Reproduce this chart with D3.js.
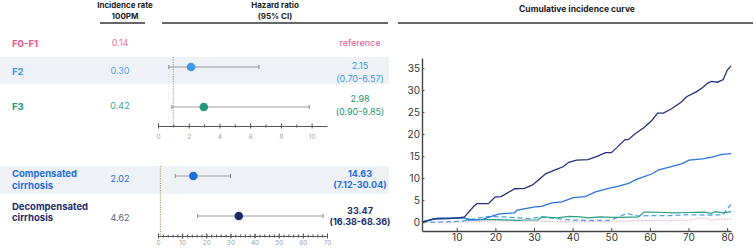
<!DOCTYPE html>
<html>
<head>
<meta charset="utf-8">
<script src="https://cdn.jsdelivr.net/npm/d3@7"></script>
<style>
  body { margin: 0; background: #fff; }
  text { font-family: Inter, "Noto Sans", sans-serif; }
</style>
</head>
<body>
<svg id="chart" width="755" height="248"></svg>
<script>
// forest plot data
const groups = ["F0-F1", "F2", "F3", "Compensated cirrhosis", "Decompensated cirrhosis"];
const incidence = ["0.14", "0.30", "0.42", "2.02", "4.62"];
const hr = [null, 2.15, 2.98, 14.63, 33.47];
const hrLow = [null, 0.70, 0.90, 7.12, 16.38];
const hrHigh = [null, 6.57, 9.85, 30.04, 68.36];
const hrText = ["reference", "2.15", "2.98", "14.63", "33.47"];
const ciText = ["", "(0.70-6.57)", "(0.90-9.85)", "(7.12-30.04)", "(16.38-68.36)"];

// cumulative incidence curves (time, %)
const tDecomp = [1, 4, 8, 10.5, 12, 14.3, 15.2, 18.2, 19.9, 21.5, 25, 27.5, 29.5, 31, 33, 35.5, 37.5, 39, 41, 44, 46.5, 48.5, 50, 51.5, 53.5, 54.5, 56, 58.5, 60.5, 62, 63.5, 65.5, 68, 69.5, 72, 73.5, 75, 76, 77.5, 79, 80, 81];
const vDecomp = [0, 0.7, 0.8, 1.0, 1.2, 3.5, 4.2, 4.2, 5.7, 5.8, 7.6, 7.7, 8.4, 9.5, 11, 11.9, 12.6, 13.6, 14.1, 14.2, 15, 15.8, 15.8, 17, 18.7, 18.8, 20, 21.5, 23.1, 24.8, 24.8, 25.7, 27.2, 28.5, 29.6, 30.5, 31.6, 32, 31.8, 32.4, 34.5, 35.5];
const tComp = [1, 5, 10, 12, 13, 16.5, 19, 21, 25, 25.5, 27.7, 30.3, 32, 34.6, 37.2, 40.2, 43.3, 45.9, 49.3, 51.9, 54.5, 56.2, 58, 60.6, 62.3, 65.8, 68.4, 70.1, 73.6, 76.1, 78.7, 81];
const vComp = [0, 0.9, 1.0, 1.0, 0.5, 0.6, 1.3, 1.9, 2.1, 2.7, 3.1, 3.5, 3.6, 4.4, 4.6, 5.6, 5.8, 6.9, 7.7, 8.2, 8.8, 9.6, 10.2, 11, 11.9, 12.7, 13.3, 14.1, 14.4, 14.8, 15.4, 15.6];
const tF3 = [1, 4, 9, 12, 14, 20, 26, 28, 31, 32, 36, 39, 42, 44, 47, 50, 53, 57, 58.5, 60, 64, 66, 70, 74, 76, 77, 79, 81];
const vF3 = [0, 0.8, 0.9, 0.9, 0.6, 0.6, 0.4, 0.5, 0.5, 1.2, 1.0, 1.3, 1.2, 1.0, 1.2, 1.1, 1.1, 1.2, 2.3, 2.3, 2.2, 2.1, 2.2, 2.3, 2.0, 2.4, 2.1, 2.4];
const tF2 = [1, 5, 10, 12, 14, 18, 22, 26, 29, 32, 36, 40, 44, 48, 50, 52, 54, 55, 57, 60, 65, 70, 75, 79, 80, 81];
const vF2 = [0, 0, 0.2, 0.3, 0.7, 1.3, 1.2, 1.0, 0.8, 1.2, 0.8, 0.5, 0.4, 0.4, 0.5, 1.2, 2.0, 1.8, 1.4, 1.5, 1.5, 1.7, 1.6, 1.7, 3.0, 4.0];
const tF01 = [1, 10, 15, 20, 30, 40, 50, 60, 70, 72, 74, 76, 78, 81];
const vF01 = [0, 0, 0.1, 0.3, 0.2, 0.1, 0.2, 0.4, 0.4, 0.8, 1.0, 0.5, 0.7, 0.7];

const labelColors = ["#e8588e", "#3e9ae8", "#23977b", "#1f6ee0", "#1c2a6c"];
const valueColors = ["#ec7aa2", "#52a7ec", "#3aa58b", "#1f6ee0", "#5a6478"];

const svg = d3.select("#chart");

// headers
function header(x, y, lines, size) {
    lines.forEach((s, i) => {
        svg.append("text")
            .attr("x", x).attr("y", y + i * 11)
            .attr("text-anchor", "middle")
            .attr("dominant-baseline", "middle")
            .attr("font-size", size)
            .attr("font-weight", "bold")
            .attr("fill", "#222")
            .text(s);
    });
}
header(125, 6, ["Incidence rate", "100PM"], "8px");
header(275, 6, ["Hazard ratio", "(95% CI)"], "8px");
header(577, 10, ["Cumulative incidence curve"], "8.5px");

function rule(x1, x2, y) {
    svg.append("line").attr("x1", x1).attr("x2", x2).attr("y1", y).attr("y2", y)
        .attr("stroke", "#333").attr("stroke-width", 1.3);
}
rule(100, 145, 23);
rule(162, 388, 23);
rule(398, 753, 23);

// row layout
const rows = [
    {label: [44], inc: 44, ci: null, val: [44]},
    {label: [72], inc: 72, ci: 67, val: [67, 80], band: [57, 84]},
    {label: [107], inc: 107, ci: 107, val: [100, 113]},
    {label: [174, 186], inc: 180, ci: 176, val: [175, 186], band: [166, 194], bold: true},
    {label: [207, 218], inc: 219, ci: 216, val: [212, 223], bold: true}
];

rows.forEach(r => {
    if (r.band) {
        svg.append("rect").attr("x", 0).attr("y", r.band[0])
            .attr("width", 389).attr("height", r.band[1] - r.band[0])
            .attr("fill", "#eef1f5");
    }
});

const xTop = d3.scaleLinear().domain([0, 11]).range([158, 327]);
const xBot = d3.scaleLinear().domain([0, 70]).range([158, 327]);

// reference lines at HR = 1
[[xTop, 57, 126], [xBot, 166, 236]].forEach(([s, y1, y2]) => {
    svg.append("line").attr("x1", s(1)).attr("x2", s(1)).attr("y1", y1).attr("y2", y2)
        .attr("stroke", "#b3a47a").attr("stroke-width", 1.2).attr("stroke-dasharray", "1.2,1.2");
});

groups.forEach((g, i) => {
    const r = rows[i];
    const words = r.label.length > 1 ? g.split(" ") : [g];
    words.forEach((w, j) => {
        svg.append("text").attr("x", 12).attr("y", r.label[j])
            .attr("dominant-baseline", "middle")
            .attr("font-size", "9.5px").attr("font-weight", "bold")
            .attr("fill", labelColors[i]).text(w);
    });
    svg.append("text").attr("x", 120).attr("y", r.inc)
        .attr("text-anchor", "middle").attr("dominant-baseline", "middle")
        .attr("font-size", "9px").attr("fill", valueColors[i]).text(incidence[i]);

    const vals = [hrText[i], ciText[i]].filter(d => d);
    vals.forEach((v, j) => {
        svg.append("text").attr("x", 360).attr("y", r.val[j])
            .attr("text-anchor", "middle").attr("dominant-baseline", "middle")
            .attr("font-size", "9px")
            .attr("font-weight", r.bold ? "bold" : "normal")
            .attr("fill", labelColors[i]).text(v);
    });

    if (hr[i] != null) {
        const s = i < 3 ? xTop : xBot;
        const y = r.ci;
        svg.append("line").attr("x1", s(hrLow[i])).attr("x2", s(hrHigh[i]))
            .attr("y1", y).attr("y2", y).attr("stroke", "#9b9b9b").attr("stroke-width", 1.1);
        [hrLow[i], hrHigh[i]].forEach(v => {
            svg.append("line").attr("x1", s(v)).attr("x2", s(v))
                .attr("y1", y - 2).attr("y2", y + 2).attr("stroke", "#8a8a8a").attr("stroke-width", 1);
        });
        svg.append("circle").attr("cx", s(hr[i])).attr("cy", y).attr("r", 4.3)
            .attr("fill", labelColors[i]);
    }
});

// forest axes
function forestAxis(scale, y, major, minor, pad) {
    const gMin = svg.append("g").attr("transform", `translate(0,${y})`)
        .call(d3.axisBottom(scale).tickValues(minor).tickSize(0).tickFormat(""));
    gMin.select(".domain").remove();
    gMin.selectAll(".tick line").attr("y1", -1.5).attr("y2", 1.5).attr("stroke", "#555");

    const g = svg.append("g").attr("transform", `translate(0,${y})`)
        .call(d3.axisBottom(scale).tickValues(major).tickSize(0).tickPadding(pad));
    g.select(".domain").attr("stroke", "#555").attr("stroke-width", 1.2);
    g.selectAll(".tick line").attr("y1", -2.5).attr("y2", 2.5).attr("stroke", "#555");
    g.selectAll(".tick text").attr("fill", "#a0a0a0").attr("font-size", "6.5px")
        .attr("font-family", "Inter, sans-serif");
}
forestAxis(xTop, 126, d3.range(0, 11, 2), d3.range(1, 11, 2), 8);
forestAxis(xBot, 236, d3.range(0, 71, 10), d3.range(0, 71, 2), 4.5);

// cumulative incidence panel
const xCur = d3.scaleLinear().domain([1, 81]).range([422, 731]);
const yCur = d3.scaleLinear().domain([-2, 37.3]).range([231, 58]);

const line = d3.line().x(d => xCur(d[0])).y(d => yCur(d[1]));
const curves = [
    {t: tF01, v: vF01, color: "#ee9ab6", dash: "1.2,1.5", w: 1.1},
    {t: tF2, v: vF2, color: "#4ea3e8", dash: "5,3", w: 1.3},
    {t: tF3, v: vF3, color: "#2d9e84", dash: null, w: 1.2},
    {t: tComp, v: vComp, color: "#2a74e2", dash: null, w: 1.3},
    {t: tDecomp, v: vDecomp, color: "#24327e", dash: null, w: 1.3}
];
curves.forEach(c => {
    svg.append("path")
        .datum(d3.zip(c.t, c.v))
        .attr("d", line)
        .attr("fill", "none")
        .attr("stroke", c.color)
        .attr("stroke-width", c.w)
        .attr("stroke-dasharray", c.dash);
});

const axX = svg.append("g").attr("transform", "translate(0,231)")
    .call(d3.axisBottom(xCur).tickValues(d3.range(10, 81, 10)).tickSize(-3).tickSizeOuter(0).tickPadding(3));
const axY = svg.append("g").attr("transform", "translate(422,0)")
    .call(d3.axisLeft(yCur).tickValues(d3.range(0, 36, 5)).tickSize(-2.5).tickSizeOuter(0).tickPadding(2));
[axX, axY].forEach(a => {
    a.select(".domain").attr("stroke", "#444").attr("stroke-width", 1.4);
    a.selectAll(".tick line").attr("stroke", "#444");
    a.selectAll(".tick text").attr("fill", "#333").attr("font-size", "10px")
        .attr("font-family", "Inter, sans-serif");
});
</script>
</body>
</html>
